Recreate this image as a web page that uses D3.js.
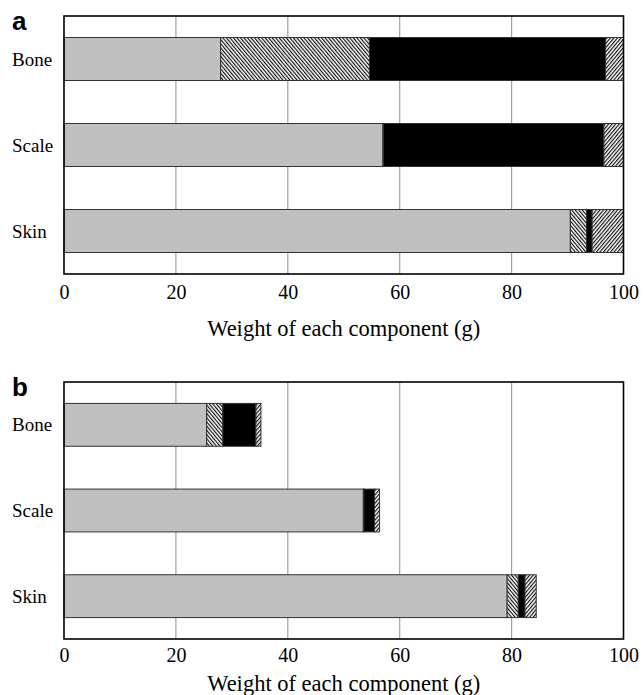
<!DOCTYPE html>
<html>
<head>
<meta charset="utf-8">
<script src="https://cdn.jsdelivr.net/npm/d3@7"></script>
<style>
  html, body { margin: 0; padding: 0; background: #fff; }
  svg { display: block; }
  text { font-family: "Liberation Serif", "Times New Roman", serif; fill: #000; }
</style>
</head>
<body>
<svg id="chart" width="643" height="695"></svg>
<script>
// ---- Data ----
const categories = ["Bone", "Scale", "Skin"];
const components = ["Component 1", "Component 2", "Component 3", "Component 4"];
// Panel a: weights (g) for each component, per category
const panelA_Bone  = [28.0, 26.6, 42.2, 3.2];
const panelA_Scale = [57.0, 0.1, 39.4, 3.5];
const panelA_Skin  = [90.5, 2.9, 1.0, 5.6];
// Panel b
const panelB_Bone  = [25.5, 2.9, 5.9, 0.9];
const panelB_Scale = [53.5, 0.1, 1.9, 0.9];
const panelB_Skin  = [79.2, 2.0, 1.2, 2.0];
const xTicks = [0, 20, 40, 60, 80, 100];
const xTitle = "Weight of each component (g)";
const panelLabels = ["a", "b"];

// ---- Drawing ----
const svg = d3.select("#chart");
const defs = svg.append("defs");

function hatch(id, angle) {
  const s = 2.7;
  const p = defs.append("pattern")
    .attr("id", id).attr("patternUnits", "userSpaceOnUse")
    .attr("width", s).attr("height", s)
    .attr("patternTransform", `rotate(${angle})`);
  p.append("rect").attr("width", s).attr("height", s).attr("fill", "#fff");
  p.append("line").attr("x1", 0.6).attr("y1", 0).attr("x2", 0.6).attr("y2", s)
    .attr("stroke", "#000").attr("stroke-width", 1.1);
}
hatch("hBack", -40);
hatch("hFwd", 40);
const fills = ["#c0c0c0", "url(#hBack)", "#000", "url(#hFwd)"];

const panels = [
  { label: panelLabels[0], top: 16, bottom: 274, tickPad: 11, titleOff: 54, data: [panelA_Bone, panelA_Scale, panelA_Skin] },
  { label: panelLabels[1], top: 382, bottom: 639, tickPad: 9, titleOff: 44, data: [panelB_Bone, panelB_Scale, panelB_Skin] }
];

const left = 64, right = 623.5;
const x = d3.scaleLinear().domain([0, 100]).range([left, right]);

panels.forEach(p => {
  const g = svg.append("g");
  const y = d3.scaleBand().domain(categories).range([p.top, p.bottom])
    .paddingInner(0.5).paddingOuter(0.25);

  // grid
  g.append("g").selectAll("line").data(xTicks.filter(t => t > 0 && t < 100)).join("line")
    .attr("x1", d => x(d)).attr("x2", d => x(d))
    .attr("y1", p.top).attr("y2", p.bottom)
    .attr("stroke", "#a0a0a0").attr("stroke-width", 1.2);

  // stacked bars
  categories.forEach((c, i) => {
    const vals = p.data[i];
    let acc = 0;
    const segs = vals.map((v, k) => { const s = { x0: acc, x1: acc + v, k }; acc += v; return s; });
    g.append("g").selectAll("rect").data(segs).join("rect")
      .attr("x", d => x(d.x0)).attr("width", d => x(d.x1) - x(d.x0))
      .attr("y", y(c)).attr("height", y.bandwidth())
      .attr("fill", d => fills[d.k])
      .attr("stroke", "#333").attr("stroke-width", 1);
    g.append("text").attr("x", 12).attr("y", y(c) + y.bandwidth() / 2)
      .attr("dy", "0.35em").attr("font-size", 19).text(c);
  });

  // frame
  g.append("rect").attr("x", left).attr("y", p.top)
    .attr("width", right - left).attr("height", p.bottom - p.top)
    .attr("fill", "none").attr("stroke", "#000").attr("stroke-width", 1.6);

  // x axis
  const ax = g.append("g").attr("transform", `translate(0,${p.bottom})`)
    .call(d3.axisBottom(x).tickValues(xTicks).tickSize(0).tickPadding(p.tickPad));
  ax.select(".domain").remove();
  ax.selectAll("text").attr("font-size", 20)
    .style("font-family", '"Liberation Serif", "Times New Roman", serif');

  g.append("text").attr("x", (left + right) / 2).attr("y", p.bottom + p.titleOff)
    .attr("dy", "0.35em")
    .attr("text-anchor", "middle").attr("font-size", 22.5).text(xTitle);

  g.append("text").attr("x", 12).attr("y", p.top + 14)
    .style("font-family", '"Liberation Sans", Arial, sans-serif')
    .attr("font-weight", "bold").attr("font-size", 26).text(p.label);
});
</script>
</body>
</html>
